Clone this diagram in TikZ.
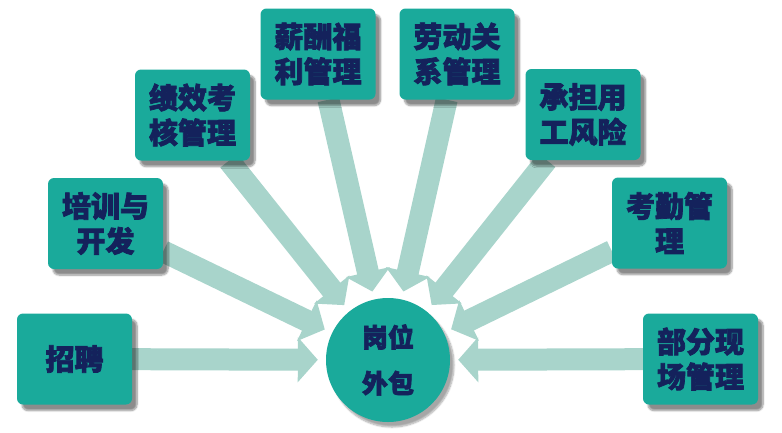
\documentclass[tikz,border=0pt]{standalone}
\usepackage{fontspec}
\newfontfamily\cjk{Noto Sans CJK SC}[BoldFeatures={FakeBold=2.5}]
\usetikzlibrary{arrows.meta,shadows.blur,backgrounds}
\definecolor{boxteal}{RGB}{26,170,155}
\definecolor{arrteal}{RGB}{168,212,203}
\definecolor{txtnavy}{RGB}{20,34,92}

\begin{document}
\begin{tikzpicture}[x=1pt,y=-1pt,
	box/.style={fill=boxteal,rounded corners=6pt,minimum width=115pt,minimum height=91pt,inner sep=0pt,align=center,text=txtnavy,font=\cjk\bfseries\fontsize{29}{35}\selectfont,blur shadow={shadow xshift=5pt,shadow yshift=-6pt,shadow blur steps=8,shadow opacity=45}},
	hub/.style={circle,fill=boxteal,minimum size=124pt,inner sep=0pt,align=center,text=txtnavy,font=\cjk\bfseries\fontsize{26}{46}\selectfont,blur shadow={shadow xshift=4pt,shadow yshift=-5pt,shadow blur steps=8,shadow opacity=35}},
	arr/.style={draw=arrteal,line width=22pt,-{Triangle[length=20pt,width=44pt]},shorten >=8pt}]
	\useasboundingbox (0,0) rectangle (782,432);

	\node[hub] (gw) at (388,360) {岗位\\外包};

	\node[box] (zp) at (74.5,359) {招聘};
	\node[box] (px) at (105.5,223.5) {培训与\\开发};
	\node[box] (jx) at (192.5,115) {绩效考\\核管理};
	\node[box] (xc) at (318,54) {薪酬福\\利管理};
	\node[box] (ld) at (457,54) {劳动关\\系管理};
	\node[box] (cd) at (583,114.5) {承担用\\工风险};
	\node[box] (kq) at (669.5,223) {考勤管\\理};
	\node[box] (bf) at (700.5,359) {部分现\\场管理};

	% pfeile
	\begin{scope}[on background layer]
	\foreach \n in {zp,px,jx,xc,ld,cd,kq,bf} {
		\draw[arr] (\n) -- (gw);
	}
	\end{scope}
\end{tikzpicture}
\end{document}
